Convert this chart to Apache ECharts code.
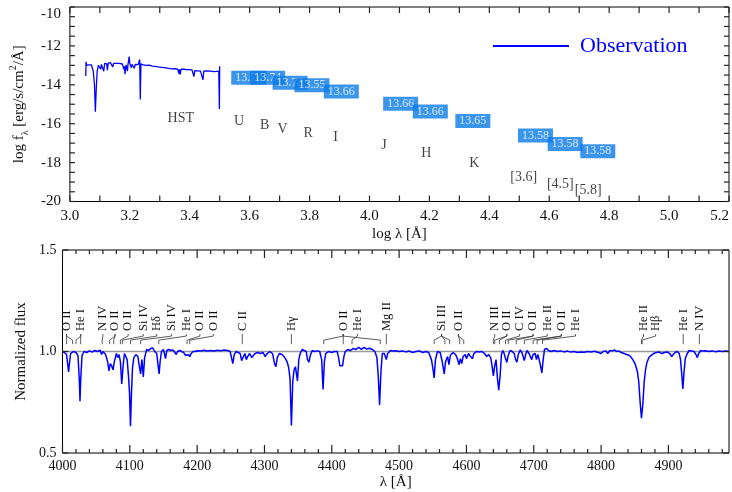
<!DOCTYPE html>
<html>
<head>
<meta charset="utf-8">
<script src="https://cdn.jsdelivr.net/npm/echarts/dist/echarts.min.js"></script>
<style>
html,body{margin:0;padding:0;background:#fff}
#chart{width:732px;height:492px}
</style>
</head>
<body>
<div id="chart"></div>
<script>
var FONT = 'Liberation Serif';

// top panel: HST spectrum (log lambda, log flux)
var hstSpec = [
  [3.053,-13.55],[3.054,-12.82],[3.056,-13.0],[3.058,-12.95],[3.062,-13.06],[3.064,-12.98],[3.066,-13.02],
  [3.070,-13.05],[3.072,-12.98],[3.074,-13.08],[3.078,-13.3],[3.082,-14.0],[3.085,-15.38],[3.088,-14.2],
  [3.091,-13.3],[3.095,-13.0],[3.098,-12.93],[3.100,-12.97],[3.103,-13.2],[3.105,-12.95],[3.108,-12.9],
  [3.110,-12.93],[3.113,-13.3],[3.116,-12.9],[3.118,-12.92],[3.120,-12.88],[3.123,-12.92],[3.125,-13.25],
  [3.128,-12.88],[3.131,-12.9],[3.135,-12.86],[3.138,-12.9],[3.140,-12.88],[3.143,-13.08],[3.146,-12.9],
  [3.150,-12.87],[3.155,-12.9],[3.160,-12.86],[3.165,-12.9],[3.170,-12.88],[3.175,-12.93],[3.178,-12.98],
  [3.180,-13.2],[3.182,-13.05],[3.184,-13.45],[3.186,-13.1],[3.188,-12.98],[3.190,-13.15],[3.192,-13.3],
  [3.194,-12.95],[3.196,-12.85],[3.198,-12.55],[3.200,-12.9],[3.202,-13.0],[3.205,-13.12],[3.207,-12.95],
  [3.210,-13.0],[3.213,-12.92],[3.215,-13.15],[3.218,-12.95],[3.220,-12.88],[3.224,-12.92],[3.228,-12.96],
  [3.231,-12.9],[3.233,-12.7],[3.235,-14.75],[3.237,-12.92],[3.240,-12.95],[3.245,-12.98],[3.250,-12.95],
  [3.255,-13.0],[3.260,-13.02],[3.265,-12.99],[3.270,-13.08],[3.275,-13.04],[3.280,-13.07],[3.285,-13.05],
  [3.290,-13.1],[3.295,-13.08],[3.300,-13.12],[3.305,-13.1],[3.310,-13.14],[3.315,-13.12],[3.320,-13.15],
  [3.330,-13.16],[3.340,-13.18],[3.350,-13.17],[3.360,-13.2],[3.364,-13.42],[3.366,-13.2],[3.368,-13.48],
  [3.371,-13.2],[3.375,-13.21],[3.380,-13.2],[3.390,-13.22],[3.400,-13.22],[3.408,-13.25],[3.412,-13.27],
  [3.414,-13.58],[3.417,-13.27],[3.425,-13.28],[3.430,-13.26],[3.436,-13.3],[3.440,-13.28],[3.444,-13.75],
  [3.447,-13.3],[3.455,-13.29],[3.460,-13.31],[3.470,-13.3],[3.480,-13.32],[3.490,-13.31],[3.497,-13.3],
  [3.499,-15.25],[3.500,-13.05]
];

// photometric band names and their label spots
var bandNames = ['HST','U','B','V','R','I','J','H','K','[3.6]','[4.5]','[5.8]'];
var bandX = [3.37,3.565,3.65,3.71,3.795,3.887,4.048,4.19,4.35,4.515,4.637,4.73];
var bandY = [-15.7,-15.9,-16.1,-16.3,-16.5,-16.7,-17.1,-17.5,-18.05,-18.75,-19.1,-19.4];

// blue value boxes
var boxX = [3.597,3.660,3.735,3.808,3.906,4.104,4.203,4.345,4.554,4.653,4.762];
var boxY = [-13.64,-13.64,-13.90,-14.02,-14.35,-14.98,-15.37,-15.86,-16.61,-17.04,-17.42];
var boxText = ['13.74','13.74','13.72','13.55','13.66','13.66','13.66','13.65','13.58','13.58','13.58'];

// bottom panel: normalized optical spectrum (wavelength, flux)
var optSpec = [
  [4000,1.0],[4003,0.995],[4006,0.985],[4008,0.93],[4009,0.90],[4010,0.93],[4012,0.99],[4016,1.0],
  [4020,0.995],[4023,0.98],[4025,0.86],[4026,0.755],[4027,0.86],[4029,0.98],[4032,1.0],[4036,0.995],
  [4040,1.003],[4044,0.997],[4048,1.005],[4052,1.0],[4056,1.006],[4058,0.985],[4060,1.0],[4064,0.985],
  [4067,0.95],[4069,0.905],[4071,0.94],[4073,0.93],[4075,0.91],[4077,0.95],[4080,0.99],[4082,0.97],
  [4084,0.985],[4086,0.95],[4088,0.84],[4090,0.93],[4092,0.99],[4094,0.985],[4096,0.96],[4098,0.88],
  [4099.5,0.80],[4101,0.632],[4102.5,0.80],[4104,0.92],[4106,0.97],[4109,0.985],[4112,0.975],[4114,0.93],
  [4116,0.89],[4118,0.96],[4120,0.875],[4122,0.97],[4125,1.01],[4128,1.005],[4131,1.015],[4134,1.018],
  [4137,1.0],[4140,0.99],[4142,0.93],[4143.5,0.89],[4145,0.95],[4147,1.0],[4150,1.01],[4153,0.965],
  [4155,1.005],[4158,1.01],[4161,1.005],[4164,1.008],[4167,0.995],[4169,0.985],[4171,1.0],[4174,1.005],
  [4177,1.0],[4180,0.995],[4183,0.98],[4185,0.972],[4187,0.985],[4189,0.975],[4191,0.99],[4194,1.0],
  [4197,1.0],[4200,1.004],[4205,1.003],[4210,1.006],[4215,1.002],[4220,1.005],[4225,1.003],[4230,1.006],
  [4235,1.004],[4240,1.007],[4245,1.005],[4249,1.0],[4251,0.97],[4253,0.94],[4255,0.985],[4258,1.0],
  [4261,0.995],[4264,0.99],[4266,0.955],[4268,0.97],[4271,0.99],[4273,0.96],[4275,0.975],[4278,0.99],
  [4281,0.97],[4283,0.965],[4286,0.99],[4290,0.995],[4294,0.99],[4298,0.995],[4301,0.975],[4304,0.99],
  [4308,1.0],[4312,0.99],[4315,0.94],[4317,0.925],[4319,0.97],[4322,0.99],[4326,0.985],[4329,0.975],
  [4332,0.96],[4334,0.945],[4336,0.92],[4338,0.865],[4340,0.635],[4342,0.85],[4344,0.91],[4346,0.925],
  [4347,0.93],[4349,0.855],[4351,0.96],[4353,0.99],[4356,1.01],[4359,1.005],[4362,1.0],[4364,0.96],
  [4366,0.947],[4368,0.98],[4371,1.005],[4374,1.0],[4378,1.003],[4382,1.0],[4385,0.96],[4387,0.813],
  [4389,0.95],[4391,0.99],[4395,1.0],[4400,0.995],[4404,1.0],[4408,1.0],[4410,0.97],[4412,0.93],
  [4414,0.935],[4416,0.93],[4418,0.975],[4420,1.0],[4424,1.01],[4428,1.005],[4432,1.015],[4436,1.01],
  [4440,1.02],[4444,1.01],[4448,1.02],[4452,1.012],[4456,1.016],[4460,1.01],[4464,1.0],[4467,0.97],
  [4469,0.88],[4471,0.737],[4473,0.90],[4475,0.99],[4478,0.99],[4481,0.96],[4483,0.99],[4487,1.005],
  [4491,1.002],[4495,1.004],[4500,1.0],[4505,1.003],[4510,0.998],[4515,1.002],[4520,0.995],[4525,1.0],
  [4530,1.003],[4535,0.995],[4540,1.0],[4544,0.995],[4548,0.96],[4550,0.92],[4552,0.87],[4554,0.96],
  [4557,1.0],[4561,0.995],[4564,0.95],[4567,0.89],[4569,0.95],[4572,0.975],[4574,0.935],[4576,0.98],
  [4580,0.995],[4584,0.985],[4587,0.96],[4589,0.935],[4591,0.965],[4593,0.94],[4595,0.975],[4598,0.985],
  [4600,0.965],[4603,0.99],[4606,0.975],[4609,0.965],[4611,0.99],[4615,1.0],[4619,0.998],[4623,1.0],
  [4627,0.99],[4630,0.975],[4633,0.985],[4636,0.97],[4638,0.93],[4640,0.88],[4642,0.93],[4644,0.96],
  [4646,0.87],[4648,0.81],[4650,0.88],[4652,0.985],[4654,1.005],[4656,0.99],[4658,0.965],[4660,0.946],
  [4662,0.98],[4665,1.005],[4668,1.0],[4671,0.99],[4673,0.96],[4675,0.948],[4677,0.985],[4680,1.008],
  [4683,0.99],[4685,0.965],[4686,0.955],[4688,0.985],[4690,1.005],[4693,0.99],[4695,0.975],[4697,0.96],
  [4699,0.985],[4702,0.99],[4704,0.96],[4706,0.985],[4708,0.96],[4710,0.93],[4712,0.895],[4714,0.96],
  [4716,1.01],[4719,1.015],[4722,1.005],[4726,1.0],[4730,1.005],[4735,1.0],[4740,1.003],[4745,0.998],
  [4750,1.002],[4755,0.997],[4760,1.0],[4765,0.995],[4770,0.998],[4775,0.996],[4780,1.0],[4785,0.998],
  [4790,1.001],[4795,0.996],[4800,0.99],[4803,1.0],[4807,1.003],[4810,0.99],[4813,1.005],[4817,1.003],
  [4820,1.008],[4823,1.0],[4826,1.003],[4830,0.995],[4834,0.99],[4838,0.985],[4842,0.98],[4845,0.97],
  [4848,0.955],[4851,0.935],[4854,0.90],[4856,0.85],[4858,0.75],[4860,0.671],[4862,0.74],[4864,0.85],
  [4866,0.91],[4868,0.945],[4871,0.97],[4874,0.98],[4878,0.99],[4882,0.995],[4886,0.998],[4890,0.99],
  [4894,0.995],[4898,0.998],[4902,0.99],[4905,0.975],[4907,0.985],[4910,0.995],[4913,1.0],[4916,0.99],
  [4918,0.96],[4920,0.88],[4921.5,0.816],[4923,0.89],[4925,0.965],[4928,0.99],[4931,1.005],[4934,1.003],
  [4938,1.0],[4941,0.985],[4943,0.97],[4945,0.99],[4948,1.005],[4951,1.002],[4955,1.004],[4960,1.0],
  [4965,1.003],[4970,0.999],[4975,1.002],[4980,1.0],[4985,1.003],[4990,1.0]
];
var continuum = [[4000,1.0],[4990,1.0]];

// line identifications: label, label wavelength, marked wavelengths
var idNames = ['O II','He I','N IV','O II','O II','Si IV','Hδ','Si IV','He I','O II','O II','C II','Hγ',
  'O II','He I','Mg II','Si III','O II','N III','O II','C IV','O II','He II','O II','He I','He II','Hβ','He I','N IV'];
var idLabelX = [4006,4027,4060,4078,4097.5,4120,4140,4162,4184,4204,4224,4267,4340,
  4417,4438,4481,4563,4588,4642,4660,4679,4699,4720,4741,4762,4863,4881,4922,4946];
var idTargets = [[4006,4015],[4027,4020],[4059],[4070,4076],[4086],[4089],[4101],[4116],[4143],[4185],[4189],[4267],[4340],
  [4388,4417,4472],[4430],[4481],[4552,4568,4575],[4590,4596],[4640],[4642,4649],[4658],[4662,4674],[4686],[4699,4705],[4713],[4860],[4861],[4922],[4946]];

// frame tick positions
var topXTicks = [3.0,3.1,3.2,3.3,3.4,3.5,3.6,3.7,3.8,3.9,4.0,4.1,4.2,4.3,4.4,4.5,4.6,4.7,4.8,4.9,5.0,5.1,5.2];
var topYTicks = [-20,-19.5,-19,-18.5,-18,-17.5,-17,-16.5,-16,-15.5,-15,-14.5,-14,-13.5,-13,-12.5,-12,-11.5,-11,-10.5,-10];
var botXMajor = [4000,4100,4200,4300,4400,4500,4600,4700,4800,4900];
var botXMinor = [4020,4040,4060,4080,4120,4140,4160,4180,4220,4240,4260,4280,4320,4340,4360,4380,
  4420,4440,4460,4480,4520,4540,4560,4580,4620,4640,4660,4680,4720,4740,4760,4780,
  4820,4840,4860,4880,4920,4940,4960,4980];
var botYTicks = [0.5,1.0,1.5];

var chart = echarts.init(document.getElementById('chart'));

// inward ticks on both opposite frame sides, placed through the axes' scales
function tickSeries(xi, ticks, isX, len, lo, hi) {
  return {
    type: 'custom', xAxisIndex: xi, yAxisIndex: xi, silent: true, z: 5,
    data: ticks.map(function (v) { return isX ? [v, lo] : [lo, v]; }),
    renderItem: function (params, api) {
      var v = api.value(isX ? 0 : 1);
      var a = isX ? api.coord([v, lo]) : api.coord([lo, v]);
      var b = isX ? api.coord([v, hi]) : api.coord([hi, v]);
      var pts = isX ?
        [[[a[0], a[1]], [a[0], a[1] - len]], [[b[0], b[1]], [b[0], b[1] + len]]] :
        [[[a[0], a[1]], [a[0] + len, a[1]]], [[b[0], b[1]], [b[0] - len, b[1]]]];
      return {
        type: 'group',
        children: pts.map(function (p) {
          return {type: 'polyline', shape: {points: p}, style: {stroke: '#222', lineWidth: 1.2, fill: null}};
        })
      };
    }
  };
}

var nameFont = {fontFamily: FONT, fontSize: 15, color: '#111'};

function evenTenth(v) {
  var k = Math.round(v * 10);
  return k % 2 === 0 ? (k / 10).toFixed(1) : '';
}

var option = {
  animation: false,
  grid: [
    {left: 62.5, right: 1, top: 7, height: 194.5, show: true, borderColor: '#000', borderWidth: 1, backgroundColor: 'transparent'},
    {left: 62.5, right: 1, top: 250, height: 203, show: true, borderColor: '#000', borderWidth: 1, backgroundColor: 'transparent'}
  ],
  legend: {
    data: [{name: 'Observation', icon: 'rect'}], left: 488, top: 30,
    itemWidth: 76, itemHeight: 2, itemStyle: {color: '#0000ff'},
    textStyle: {fontFamily: FONT, fontSize: 22, color: '#0000ff', padding: [0, 0, 0, 6]}
  },
  xAxis: [
    {gridIndex: 0, type: 'value', min: 3.0, max: 5.2, interval: 0.1,
      axisLine: {show: false}, axisTick: {show: false}, splitLine: {show: false},
      axisLabel: {formatter: evenTenth, margin: 7, alignMaxLabel: 'right', fontFamily: FONT, fontSize: 15, color: '#111'},
      name: 'log λ [Å]', nameLocation: 'middle', nameGap: 25, nameTextStyle: nameFont},
    {gridIndex: 1, type: 'value', min: 4000, max: 4990, interval: 100,
      axisLine: {show: false}, axisTick: {show: false}, splitLine: {show: false},
      axisLabel: {margin: 6, fontFamily: FONT, fontSize: 14, color: '#111',
        formatter: function (v) { return v % 100 === 0 ? String(v) : ''; }},
      name: 'λ [Å]', nameLocation: 'middle', nameGap: 22, nameTextStyle: nameFont}
  ],
  yAxis: [
    {gridIndex: 0, type: 'value', min: -20, max: -10, interval: 2,
      axisLine: {show: false}, axisTick: {show: false}, splitLine: {show: false},
      axisLabel: {margin: 9, fontFamily: FONT, fontSize: 15, color: '#111', verticalAlignMaxLabel: 'top'},
      name: 'log f{sub|λ} [erg/s/cm{sup|2}/Å]', nameLocation: 'middle', nameGap: 37,
      nameTextStyle: {fontFamily: FONT, fontSize: 15, color: '#111', lineHeight: 22,
        rich: {
          sub: {fontFamily: FONT, fontSize: 10, lineHeight: 10, verticalAlign: 'bottom', color: '#111'},
          sup: {fontFamily: FONT, fontSize: 10, lineHeight: 10, verticalAlign: 'top', color: '#111'}
        }}},
    {gridIndex: 1, type: 'value', min: 0.5, max: 1.5, interval: 0.5,
      axisLine: {show: false}, axisTick: {show: false}, splitLine: {show: false},
      axisLabel: {margin: 6, fontFamily: FONT, fontSize: 14, color: '#111',
        formatter: function (v) { return v.toFixed(1); }},
      name: 'Normalized flux', nameLocation: 'middle', nameGap: 33, nameTextStyle: nameFont}
  ],
  series: [
    {
      name: 'Observation', type: 'line', xAxisIndex: 0, yAxisIndex: 0,
      data: hstSpec, symbol: 'none', color: '#0000ff',
      lineStyle: {color: '#0000ff', width: 1.3}
    },
    {
      type: 'scatter', xAxisIndex: 0, yAxisIndex: 0, symbolSize: 0, silent: true,
      data: bandX.map(function (x, i) { return [x, bandY[i]]; }),
      label: {show: true, position: 'inside', fontFamily: FONT, fontSize: 14, color: '#111',
        formatter: function (p) { return bandNames[p.dataIndex]; }}
    },
    {
      type: 'scatter', xAxisIndex: 0, yAxisIndex: 0, symbolSize: 0, silent: true,
      data: boxX.map(function (x, i) { return [x, boxY[i]]; }),
      label: {show: true, position: 'inside', fontFamily: FONT, fontSize: 12, color: '#fff',
        backgroundColor: '#0a7be6', padding: [1, 4, 1, 4], lineHeight: 12,
        formatter: function (p) { return boxText[p.dataIndex]; }}
    },
    {
      type: 'line', xAxisIndex: 1, yAxisIndex: 1, data: continuum, symbol: 'none',
      lineStyle: {color: '#999', width: 1.5}, z: 1, silent: true
    },
    {
      type: 'line', xAxisIndex: 1, yAxisIndex: 1, data: optSpec, symbol: 'none',
      lineStyle: {color: '#0000ff', width: 1.5}, z: 2
    },
    {
      type: 'custom', xAxisIndex: 1, yAxisIndex: 1, silent: true,
      data: idLabelX.map(function (x) { return [x, 1.1]; }),
      renderItem: function (params, api) {
        var i = params.dataIndex;
        var lx = idLabelX[i];
        var top = api.coord([lx, 1.101]);
        var a = api.coord([lx, 1.086]);
        var b = api.coord([lx, 1.076]);
        var kids = [{
          type: 'text', x: top[0], y: top[1], rotation: Math.PI / 2,
          style: {text: idNames[i], font: '12.5px "Liberation Serif"', fill: '#111', align: 'left', verticalAlign: 'middle'}
        }];
        idTargets[i].forEach(function (t) {
          var c = api.coord([t, 1.056]);
          var d = api.coord([t, 1.036]);
          kids.push({type: 'polyline', shape: {points: [a, b, c, d]},
            style: {stroke: '#333', lineWidth: 0.8, fill: null}});
        });
        return {type: 'group', children: kids};
      }
    },
    tickSeries(0, topXTicks, true, 6, -20, -10),
    tickSeries(0, topYTicks, false, 5, 3.0, 5.2),
    tickSeries(1, botXMajor, true, 8, 0.5, 1.5),
    tickSeries(1, botXMinor, true, 4, 0.5, 1.5),
    tickSeries(1, botYTicks, false, 6, 4000, 4990)
  ]
};

chart.setOption(option);
</script>
</body>
</html>
